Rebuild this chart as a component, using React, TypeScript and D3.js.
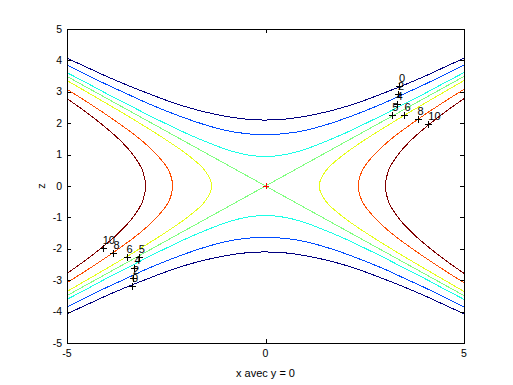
import React from 'react';
import * as d3 from 'd3';

// contour levels and their jet colours
const LEVELS = [0, 2, 4, 5, 6, 8, 10];
const LEVEL_COLORS = ['#000080', '#004cff', '#1affe6', '#80ff80', '#e6ff1a', '#ff4d00', '#800000'];

// upper/lower branches (levels 0, 2, 4): z read at these x values (x >= 0, mirrored)
const BRANCH_X = [0, 0.5, 1, 1.5, 2, 2.5, 3, 3.5, 4, 4.5, 5];
const Z_LEVEL0 = [2.1, 2.13, 2.22, 2.35, 2.52, 2.73, 2.97, 3.22, 3.49, 3.78, 4.07];
const Z_LEVEL2 = [1.63, 1.67, 1.77, 1.94, 2.15, 2.39, 2.65, 2.94, 3.23, 3.54, 3.85];
const Z_LEVEL4 = [0.94, 1.0, 1.17, 1.41, 1.68, 1.98, 2.29, 2.62, 2.94, 3.28, 3.61];

// side branches (levels 6, 8, 10): x read at these z values (z >= 0, mirrored)
const Z_SIDE6 = [0, 0.5, 1, 1.5, 2, 2.5, 3, 3.36];
const X_SIDE6 = [1.35, 1.53, 1.97, 2.54, 3.17, 3.83, 4.51, 5];
const Z_SIDE8 = [0, 0.5, 1, 1.5, 2, 2.5, 3.08];
const X_SIDE8 = [2.34, 2.44, 2.74, 3.17, 3.7, 4.28, 5];
const Z_SIDE10 = [0, 0.5, 1, 1.5, 2, 2.5, 2.78];
const X_SIDE10 = [3.02, 3.1, 3.34, 3.7, 4.16, 4.68, 5];

// level 5 is the saddle: two straight lines through the origin
const SADDLE_END = [5, 3.49];

// contour label markers (right side; the left ones are the mirror image)
const LABEL_TEXT = ['0', '2', '4', '5', '6', '8', '10'];
const LABEL_X = [3.36, 3.34, 3.3, 3.19, 3.5, 3.83, 4.1];
const LABEL_Z = [3.2, 2.93, 2.6, 2.26, 2.27, 2.13, 1.96];

const X_TICKS = [-5, 0, 5];
const Z_TICKS = [-5, -4, -3, -2, -1, 0, 1, 2, 3, 4, 5];

const W = 513;
const H = 385;
const FONT = '"Liberation Sans", Arial, Helvetica, sans-serif';

type Pt = [number, number];

function branchCurve(zs: number[], sign: number): Pt[] {
  const left: Pt[] = BRANCH_X.slice(1).reverse().map((x, i) => [-x, sign * zs[zs.length - 1 - i]]);
  const right: Pt[] = BRANCH_X.map((x, i) => [x, sign * zs[i]]);
  return [...left, ...right];
}

function sideCurve(zs: number[], xs: number[], sign: number): Pt[] {
  const low: Pt[] = zs.slice(1).reverse().map((z, i) => [sign * xs[xs.length - 1 - i], -z]);
  const high: Pt[] = zs.map((z, i) => [sign * xs[i], z]);
  return [...low, ...high];
}

export default function App() {
  const x = d3.scaleLinear().domain([-5, 5]).range([67, 464]);
  const y = d3.scaleLinear().domain([-5, 5]).range([343, 29]);

  const line = d3.line<Pt>()
    .x(d => x(d[0]))
    .y(d => y(d[1]))
    .curve(d3.curveCatmullRom);

  const curves: { pts: Pt[]; color: string }[] = [];
  [Z_LEVEL0, Z_LEVEL2, Z_LEVEL4].forEach((zs, i) => {
    curves.push({ pts: branchCurve(zs, 1), color: LEVEL_COLORS[i] });
    curves.push({ pts: branchCurve(zs, -1), color: LEVEL_COLORS[i] });
  });
  curves.push({ pts: [[-SADDLE_END[0], -SADDLE_END[1]], [SADDLE_END[0], SADDLE_END[1]]], color: LEVEL_COLORS[3] });
  curves.push({ pts: [[-SADDLE_END[0], SADDLE_END[1]], [SADDLE_END[0], -SADDLE_END[1]]], color: LEVEL_COLORS[3] });
  [[Z_SIDE6, X_SIDE6], [Z_SIDE8, X_SIDE8], [Z_SIDE10, X_SIDE10]].forEach(([zs, xs], i) => {
    curves.push({ pts: sideCurve(zs, xs, 1), color: LEVEL_COLORS[4 + i] });
    curves.push({ pts: sideCurve(zs, xs, -1), color: LEVEL_COLORS[4 + i] });
  });

  const labels = LEVELS.flatMap((_, i) => [
    { px: x(LABEL_X[i]), py: y(LABEL_Z[i]), text: LABEL_TEXT[i] },
    { px: x(-LABEL_X[i]), py: y(-LABEL_Z[i]), text: LABEL_TEXT[i] },
  ]);

  const x0 = x(-5), x1 = x(5), y0 = y(5), y1 = y(-5);
  const tick = 4;

  return (
    <div style={{ position: 'fixed', left: 0, top: 0, background: '#fff' }}>
      <svg width={W} height={H} style={{ display: 'block' }} fontFamily={FONT}>
        <rect width={W} height={H} fill="#fff" />
        <defs>
          <clipPath id="plotClip">
            <rect x={x0} y={y0} width={x1 - x0} height={y1 - y0} />
          </clipPath>
        </defs>

        <g clipPath="url(#plotClip)">
          {curves.map((c, i) => (
            <path key={i} d={line(c.pts) || ''} fill="none" stroke={c.color}
              strokeWidth={1} shapeRendering="crispEdges" />
          ))}
        </g>

        {/* red marker at the saddle point */}
        <g stroke="#ff0000" strokeWidth={1} shapeRendering="crispEdges">
          <line x1={x(0) - 3} x2={x(0) + 3} y1={y(0) + 0.5} y2={y(0) + 0.5} />
          <line x1={x(0) + 0.5} x2={x(0) + 0.5} y1={y(0) - 3} y2={y(0) + 3} />
        </g>

        {/* contour labels */}
        {labels.map((l, i) => (
          <g key={i}>
            <g stroke="#000" strokeWidth={1} shapeRendering="crispEdges">
              <line x1={l.px - 3} x2={l.px + 4} y1={Math.round(l.py) + 0.5} y2={Math.round(l.py) + 0.5} />
              <line x1={Math.round(l.px) + 0.5} x2={Math.round(l.px) + 0.5} y1={l.py - 3} y2={l.py + 4} />
            </g>
            <text x={l.px} y={l.py - 4} fontSize={11} fill="#000">{l.text}</text>
          </g>
        ))}

        {/* axes box with inward ticks */}
        <g stroke="#000" strokeWidth={1} shapeRendering="crispEdges" fill="none">
          <rect x={x0 + 0.5} y={y0 + 0.5} width={x1 - x0} height={y1 - y0} />
          {X_TICKS.map(t => (
            <g key={'xt' + t}>
              <line x1={Math.round(x(t)) + 0.5} x2={Math.round(x(t)) + 0.5} y1={y1} y2={y1 - tick} />
              <line x1={Math.round(x(t)) + 0.5} x2={Math.round(x(t)) + 0.5} y1={y0} y2={y0 + tick} />
            </g>
          ))}
          {Z_TICKS.map(t => (
            <g key={'zt' + t}>
              <line x1={x0} x2={x0 + tick} y1={Math.round(y(t)) + 0.5} y2={Math.round(y(t)) + 0.5} />
              <line x1={x1} x2={x1 - tick} y1={Math.round(y(t)) + 0.5} y2={Math.round(y(t)) + 0.5} />
            </g>
          ))}
        </g>

        {X_TICKS.map(t => (
          <text key={'xl' + t} x={x(t)} y={y1 + 14} fontSize={10.5} textAnchor="middle" fill="#000">{t}</text>
        ))}
        {Z_TICKS.map(t => (
          <text key={'zl' + t} x={x0 - 5} y={y(t) + 3.5} fontSize={10.5} textAnchor="end" fill="#000">{t}</text>
        ))}

        <text x={(x0 + x1) / 2} y={377} fontSize={11} textAnchor="middle" fill="#000">x avec y = 0</text>
        <text transform={`translate(45, ${y(0)}) rotate(-90)`} fontSize={11} textAnchor="middle" fill="#000">z</text>
      </svg>
    </div>
  );
}
